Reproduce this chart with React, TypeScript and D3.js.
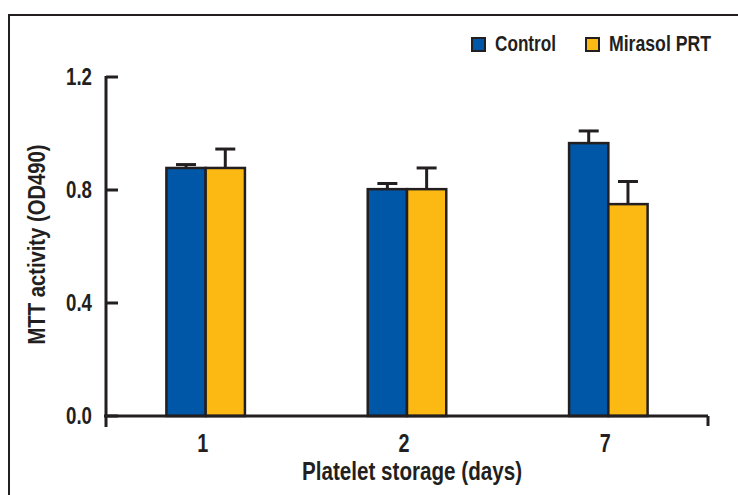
import * as d3 from "d3";
import React from "react";

// data
const days = ["1", "2", "7"];
const seriesNames = ["Control", "Mirasol PRT"];
const controlMeans = [0.878, 0.803, 0.966];
const controlErr = [0.012, 0.02, 0.043];
const mirasolMeans = [0.878, 0.803, 0.75];
const mirasolErr = [0.067, 0.075, 0.08];
const yTicks = [0.0, 0.4, 0.8, 1.2];

const colors = ["#0057a8", "#fdb913"];
const ink = "#231f20";
const font = "'Liberation Sans Narrow', 'Liberation Sans', Arial, sans-serif";

const App = () => {
  const width = 738,
    height = 495;
  const margin = { top: 77, right: 30, bottom: 79, left: 106 };

  const x = d3
    .scaleBand()
    .domain(days)
    .range([margin.left, width - margin.right])
    .paddingInner(0.61)
    .paddingOuter(0.3);
  const inner = d3.scaleBand().domain(seriesNames).range([0, x.bandwidth()]);
  const y = d3.scaleLinear().domain([0, 1.2]).range([height - margin.bottom, margin.top]);

  const series = [
    { name: seriesNames[0], means: controlMeans, errs: controlErr },
    { name: seriesNames[1], means: mirasolMeans, errs: mirasolErr },
  ];

  const x0 = margin.left;
  const x1 = width - margin.right;
  const y0 = y(0);

  const legendX = [472, 586];
  const legendLen = [61, 102];

  return (
    <svg
      width={width}
      height={height}
      style={{ position: "absolute", left: 0, top: 0, background: "#fff" }}
      fontFamily={font}
      fontWeight="bold"
      fill={ink}
    >
      {/* outer frame */}
      <rect x={9} y={15} width={745} height={500} fill="none" stroke={ink} strokeWidth={2} />

      {/* legend */}
      {series.map((s, i) => (
        <g key={s.name}>
          <rect x={legendX[i]} y={38} width={13} height={13} fill={colors[i]} stroke={ink} strokeWidth={2} />
          <text
            x={legendX[i] + 23}
            y={51}
            fontSize={22}
            textLength={legendLen[i]}
            lengthAdjust="spacingAndGlyphs"
          >
            {s.name}
          </text>
        </g>
      ))}

      {/* bars */}
      {series.map((s, i) =>
        days.map((d, j) => {
          const bx = (x(d) as number) + (inner(s.name) as number);
          const bw = inner.bandwidth();
          const top = y(s.means[j]);
          const et = y(s.means[j] + s.errs[j]);
          const cx = bx + bw / 2;
          return (
            <g key={s.name + d}>
              <line x1={cx} x2={cx} y1={top} y2={et} stroke={ink} strokeWidth={3} />
              <line x1={cx - 10} x2={cx + 10} y1={et} y2={et} stroke={ink} strokeWidth={3} />
              <rect x={bx} y={top} width={bw} height={y0 - top} fill={colors[i]} stroke={ink} strokeWidth={2.5} />
            </g>
          );
        })
      )}

      {/* y axis */}
      <line x1={x0} x2={x0} y1={y(1.2) - 1} y2={y0 + 11} stroke={ink} strokeWidth={3} />
      {yTicks.map((t) => (
        <g key={t}>
          <line x1={x0} x2={x0 + 12} y1={y(t)} y2={y(t)} stroke={ink} strokeWidth={3} />
          <text x={92} y={y(t) + 8} textAnchor="end" fontSize={23} textLength={26} lengthAdjust="spacingAndGlyphs">
            {d3.format(".1f")(t)}
          </text>
        </g>
      ))}
      <text
        transform={`translate(45,${(y(0) + y(1.2)) / 2 - 2}) rotate(-90)`}
        textAnchor="middle"
        fontSize={24}
        textLength={200}
        lengthAdjust="spacingAndGlyphs"
      >
        MTT activity (OD490)
      </text>

      {/* x axis */}
      <line x1={x0 - 2} x2={x1} y1={y0} y2={y0} stroke={ink} strokeWidth={3} />
      <line x1={x1} x2={x1} y1={y0} y2={y0 + 10} stroke={ink} strokeWidth={3} />
      {days.map((d) => (
        <text
          key={d}
          x={(x(d) as number) + x.bandwidth() / 2 - 3}
          y={452}
          textAnchor="middle"
          fontSize={25}
          textLength={11}
          lengthAdjust="spacingAndGlyphs"
        >
          {d}
        </text>
      ))}
      <text
        x={412}
        y={480}
        textAnchor="middle"
        fontSize={25}
        textLength={220}
        lengthAdjust="spacingAndGlyphs"
      >
        Platelet storage (days)
      </text>
    </svg>
  );
};

export default App;
